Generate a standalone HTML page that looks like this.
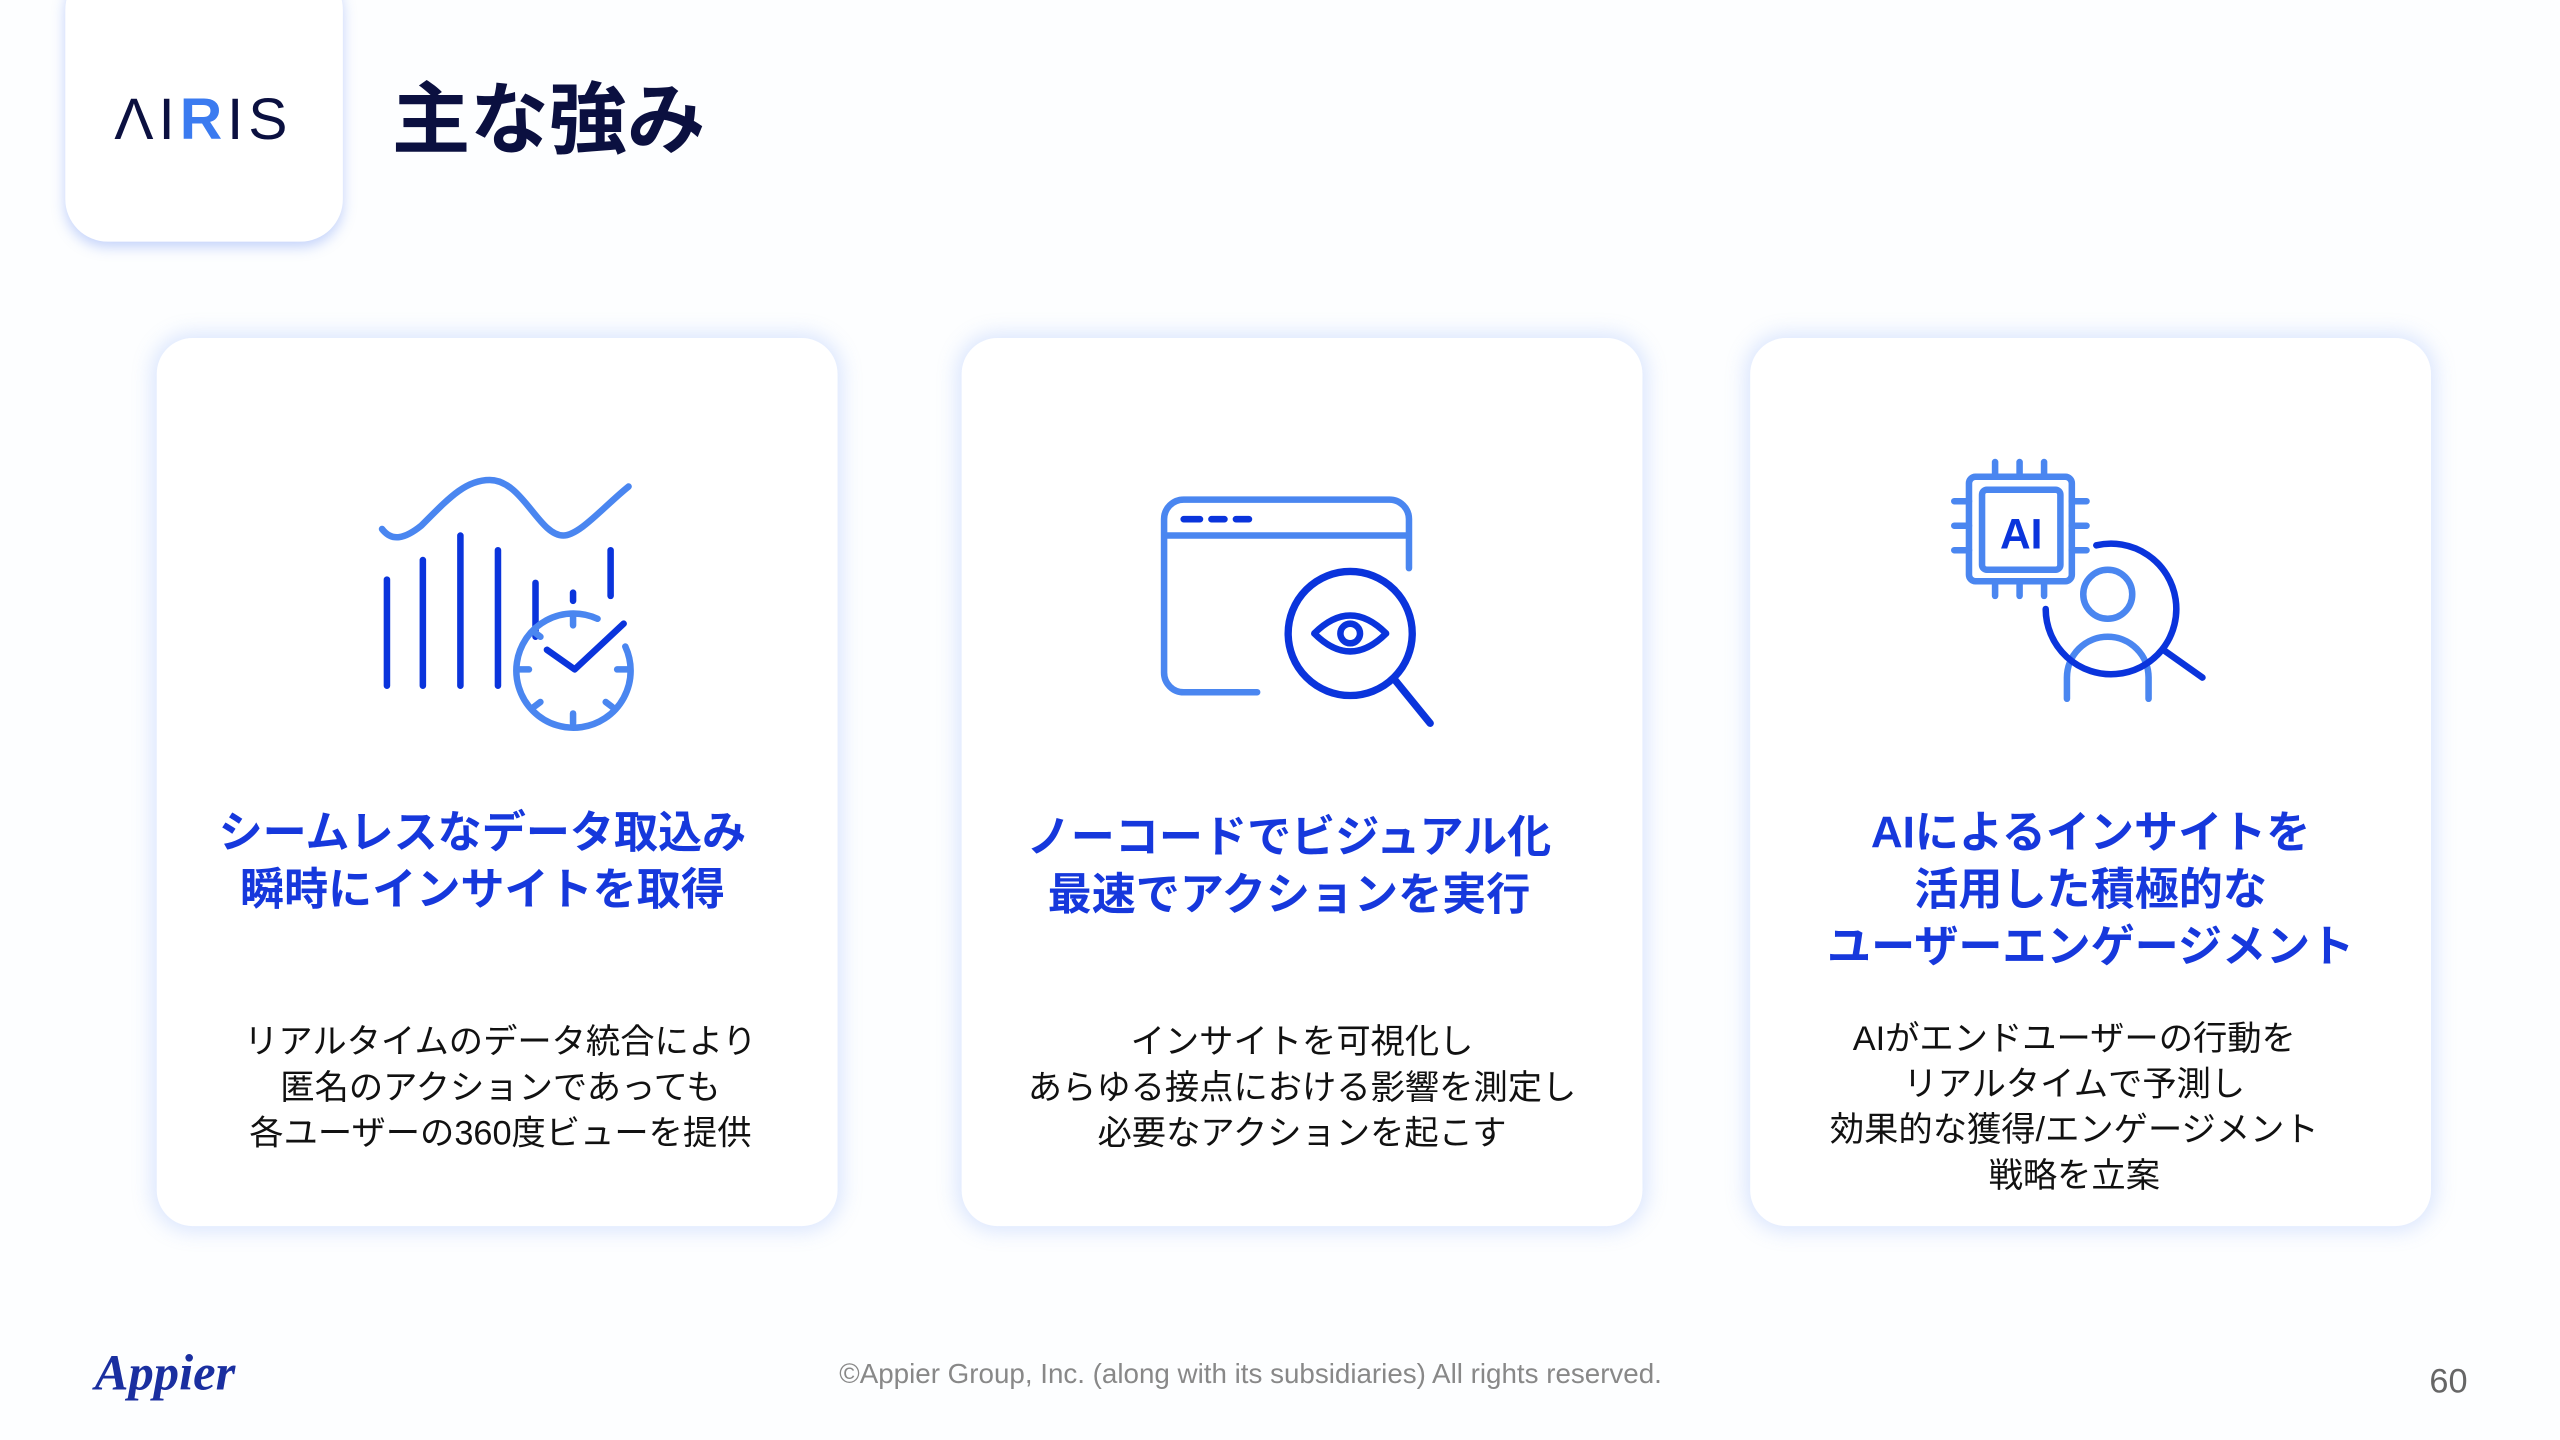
<!DOCTYPE html>
<html><head><meta charset="utf-8"><style>
html,body{margin:0;padding:0;width:2560px;height:1440px;overflow:hidden;background:#fdfeff}
#s{position:absolute;left:0;top:0;width:1568px;height:882px;transform:scale(1.63265);transform-origin:0 0;font-family:"Liberation Sans","Noto Sans CJK JP",sans-serif}
.logo{position:absolute;left:40px;top:-20px;width:170px;height:168px;background:#fff;border-radius:26px;box-shadow:0 3px 8px rgba(90,130,240,.35)}
.card{position:absolute;top:207px;width:417px;height:544px;background:#fff;border-radius:22px;box-shadow:0 0 12px 3px rgba(120,160,250,.25)}
.h{position:absolute;left:0;width:100%;text-align:center;color:#1638dc;font-weight:bold;font-size:27px;line-height:35px}
.b{position:absolute;left:0;width:100%;text-align:center;color:#111;font-size:21px;line-height:28px}
svg{position:absolute;left:0;top:0}
</style></head><body><div id="s">
<div class="logo"></div>
<div style="position:absolute;left:70px;top:52px;font-size:36px;letter-spacing:3px;color:#0b1040;font-weight:500">ΛI<span style="color:#3b7bf0;font-weight:bold">R</span>IS</div>
<div style="position:absolute;left:240px;top:34px;font-size:48px;font-weight:bold;color:#0b1040">主な強み</div>

<div class="card" style="left:96px"><div class="h" style="top:286px;left:-9px">シームレスなデータ取込み<br>瞬時にインサイトを取得</div>
<div class="b" style="top:418px;left:2px">リアルタイムのデータ統合により<br>匿名のアクションであっても<br>各ユーザーの360度ビューを提供</div></div>
<div class="card" style="left:589px"><div class="h" style="top:289px;left:-8px">ノーコードでビジュアル化<br>最速でアクションを実行</div>
<div class="b" style="top:418px;left:0px">インサイトを可視化し<br>あらゆる接点における影響を測定し<br>必要なアクションを起こす</div></div>
<div class="card" style="left:1072px"><div class="h" style="top:286px">AIによるインサイトを<br>活用した積極的な<br>ユーザーエンゲージメント</div>
<div class="b" style="top:416px;left:-10px">AIがエンドユーザーの行動を<br>リアルタイムで予測し<br>効果的な獲得/エンゲージメント<br>戦略を立案</div></div>

<svg width="1568" height="882" fill="none" stroke-linecap="round" stroke-linejoin="round">
<g stroke-width="4">
<path d="M234 324 C240 332 248 330 258 322 C275 305 285 294 300 294 C320 294 330 328 345 328 C355 328 370 310 385 298" stroke="#4a86f0"/>
<g stroke="#0a34dc"><path d="M237 420V355M259 420V343M282 420V328M305 420V337M328 390V357M351 368V363M374 365V337M335 398L352 410L382 382"/></g>
<g stroke="#4a86f0"><path d="M366 379A35 35 0 1 0 383 396"/><path d="M351 377v6M351 437v6M318 410h6M378 410h6M327 387l4 3M327 433l4-3M375 433l-4-3"/></g>
<path d="M770 424H725a12 12 0 0 1-12-12V318a12 12 0 0 1 12-12h126a12 12 0 0 1 12 12V348M713 328H863" stroke="#4a86f0"/>
<path d="M725 318h10M742 318h8M757 318h8" stroke="#0a34dc"/>
<circle cx="827" cy="388" r="38" stroke="#0a34dc" stroke-width="4.5"/>
<path d="M854 416L876 443" stroke="#0a34dc" stroke-width="4.5"/>
<path d="M805 388Q827 366 849 388Q827 410 805 388Z" stroke="#0a34dc"/>
<circle cx="827" cy="388" r="6" stroke="#0a34dc"/>
<g stroke="#4a86f0"><rect x="1206" y="292" width="63" height="64" rx="4"/><rect x="1214" y="300" width="48" height="49" rx="3"/>
<path d="M1222 292v-9M1237 292v-9M1252 292v-9M1222 356v9M1237 356v9M1252 356v9M1206 307h-9M1206 322h-9M1206 337h-9M1269 307h9M1269 322h9M1269 337h9"/>
<circle cx="1291" cy="364" r="15"/><path d="M1266 428V415a25 25 0 0 1 50 0V428"/></g>
<path d="M1284 334A40 40 0 1 1 1253 373" stroke="#0a34dc" stroke-width="4"/>
<path d="M1325 398L1349 415" stroke="#0a34dc" stroke-width="4"/>
</g>
<text x="1238" y="336" text-anchor="middle" font-family="Liberation Sans" font-weight="bold" font-size="26" fill="#0a34dc">AI</text>
</svg>

<div style="position:absolute;left:58px;top:823px;font-family:'Liberation Serif',serif;font-style:italic;font-weight:bold;font-size:31px;color:#1a2fa0">Appier</div>
<div style="position:absolute;left:0;width:1532px;top:832px;text-align:center;color:#888;font-size:17px">©Appier Group, Inc. (along with its subsidiaries) All rights reserved.</div>
<div style="position:absolute;left:1488px;top:835px;color:#666;font-size:21px">60</div>
</div></body></html>
